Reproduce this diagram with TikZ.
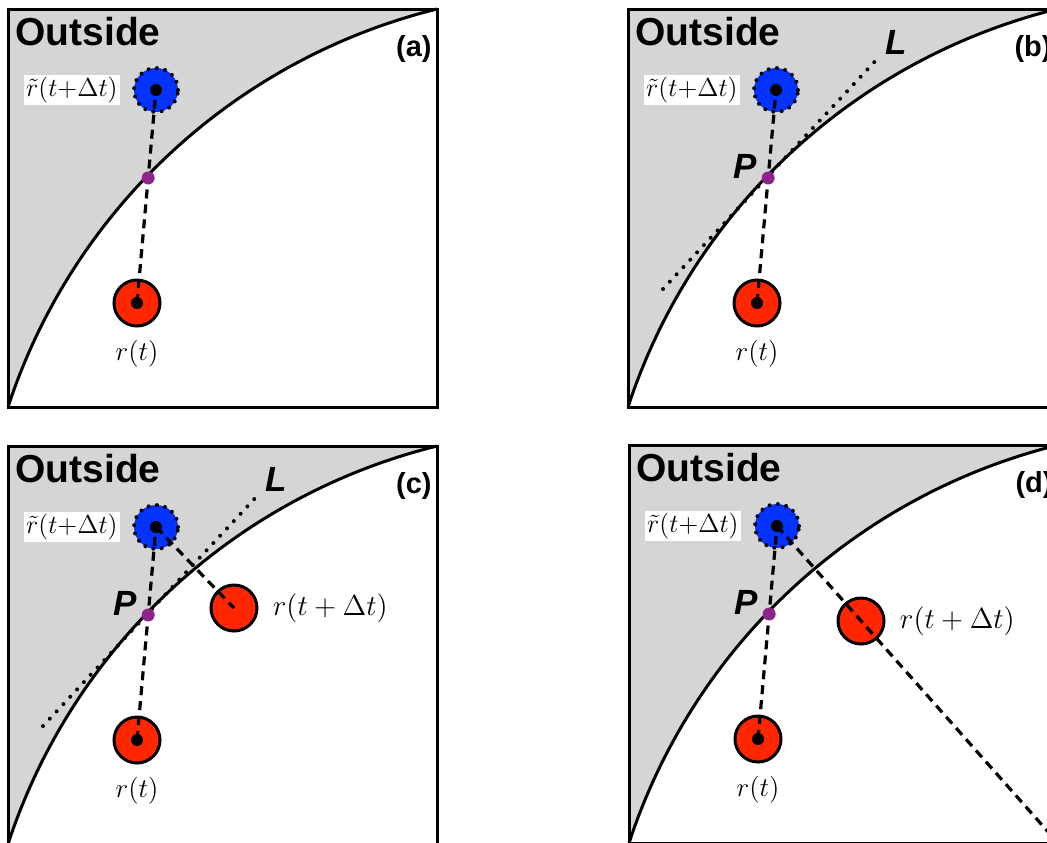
\RequirePackage{fix-cm}
\documentclass[tikz,border=0pt]{standalone}
\usepackage{fontspec}
\setsansfont{Liberation Sans}
\usetikzlibrary{positioning,calc}

\definecolor{outgrey}{RGB}{213,213,213}
\definecolor{ballblue}{RGB}{4,51,255}
\definecolor{ballred}{RGB}{255,38,0}
\definecolor{hitpurple}{RGB}{142,35,140}

\tikzset{
  wall/.style={line width=1.5pt},
  ball/.style={circle,fill=ballred,draw=black,line width=1.5pt,inner sep=0pt,minimum size=23pt},
  ghost/.style={circle,fill=ballblue,draw=black,line width=2pt,dash pattern=on 0pt off 4.2pt,line cap=round,inner sep=0pt,minimum size=22pt},
  core/.style={circle,fill=black,inner sep=0pt,minimum size=6pt},
  hit/.style={circle,fill=hitpurple,inner sep=0pt,minimum size=6.5pt},
  track/.style={line width=1.6pt,dash pattern=on 4.5pt off 3pt},
  tangent/.style={line width=2pt,dash pattern=on 0pt off 5pt,line cap=round},
  mathlbl/.style={inner sep=0pt,font=\fontsize{13.5}{14}\selectfont},
  outtext/.style={anchor=base west,inner sep=0pt,font=\sffamily\bfseries\fontsize{19.5}{20}\selectfont},
  tagtext/.style={anchor=base east,inner sep=0pt,font=\sffamily\bfseries\fontsize{14.5}{15}\selectfont},
  bigtext/.style={anchor=base,inner sep=0pt,font=\sffamily\bfseries\itshape\fontsize{17.5}{18}\selectfont}
}

\begin{document}
\begin{tikzpicture}[x=0.5pt,y=-0.5pt]
\clip (0,0) rectangle (1047,842);
\fill[white] (0,0) rectangle (1047,842);
% 四个面板：外部区域、边界、两个位置
\foreach \pn/\ox/\oy in {a/8/9,b/628/9,c/8/446,d/629/445}{
\begin{scope}[shift={(\ox,\oy)}]
\fill[outgrey] (0,0) rectangle (429,398);
\fill[white] (0,398) .. controls (65,200) and (227,50) .. (429,0) -- (429,398) -- cycle;
\draw[wall] (0,398) .. controls (65,200) and (227,50) .. (429,0);
\draw[wall] (0,0) rectangle (429,398);
\coordinate (corner\pn) at (429,398);
\node[outtext] (out\pn) at (7,36) {Outside};
\node[tagtext] (tag\pn) at (424,47.5) {(\pn)};
\node[ghost] (blue\pn) at (148,81) {};
\node[ball] (red\pn) at (129,294) {};
\node[mathlbl,fill=white,inner sep=1pt,left=6pt of blue\pn,font=\fontsize{13}{13}\selectfont] (tlbl\pn) {$\tilde{r}(t{+}\Delta t)$};
\node[mathlbl,below=6pt of red\pn] (rlbl\pn) {$r(t)$};
\end{scope}
}
% (b) 切线 L 与交点 P
\begin{scope}[shift={(628,9)}]
\draw[tangent] (35,280) -- (251,48);
\node[bigtext] (Lb) at (268,45) {L};
\node[bigtext] (Pb) at (117,169) {P};
\end{scope}
% (c) 切线 L 与新位置
\begin{scope}[shift={(8,446)}]
\draw[tangent] (35,280) -- (251,48);
\node[bigtext] (Lc) at (268,45) {L};
\node[bigtext] (Pc) at (117,169) {P};
\node[ball] (newc) at (226,162) {};
\node[mathlbl,right=7pt of newc,font=\fontsize{14.5}{15}\selectfont] (nlblc) {$r(t+\Delta t)$};
\end{scope}
% (d) 沿直线的新位置
\begin{scope}[shift={(629,445)}]
\node[bigtext] (Pd) at (117,169) {P};
\node[ball] (newd) at (232,176) {};
\node[mathlbl,right=7pt of newd,font=\fontsize{14.5}{15}\selectfont] (nlbld) {$r(t+\Delta t)$};
\end{scope}
% 虚线轨迹
\foreach \pn in {a,b,c,d}{
\draw[track] (red\pn.center) -- (blue\pn.center);
}
\draw[track] (bluec.center) -- (newc.center);
\draw[track] (blued.center) -- (cornerd);
% 中心点与交点
\foreach \pn in {a,b,c,d}{
\node[core] (rcore\pn) at (red\pn) {};
\node[core] (bcore\pn) at (blue\pn) {};
\node[hit] (hit\pn) at ($(red\pn)!0.587!(blue\pn)$) {};
}
\end{tikzpicture}
\end{document}
